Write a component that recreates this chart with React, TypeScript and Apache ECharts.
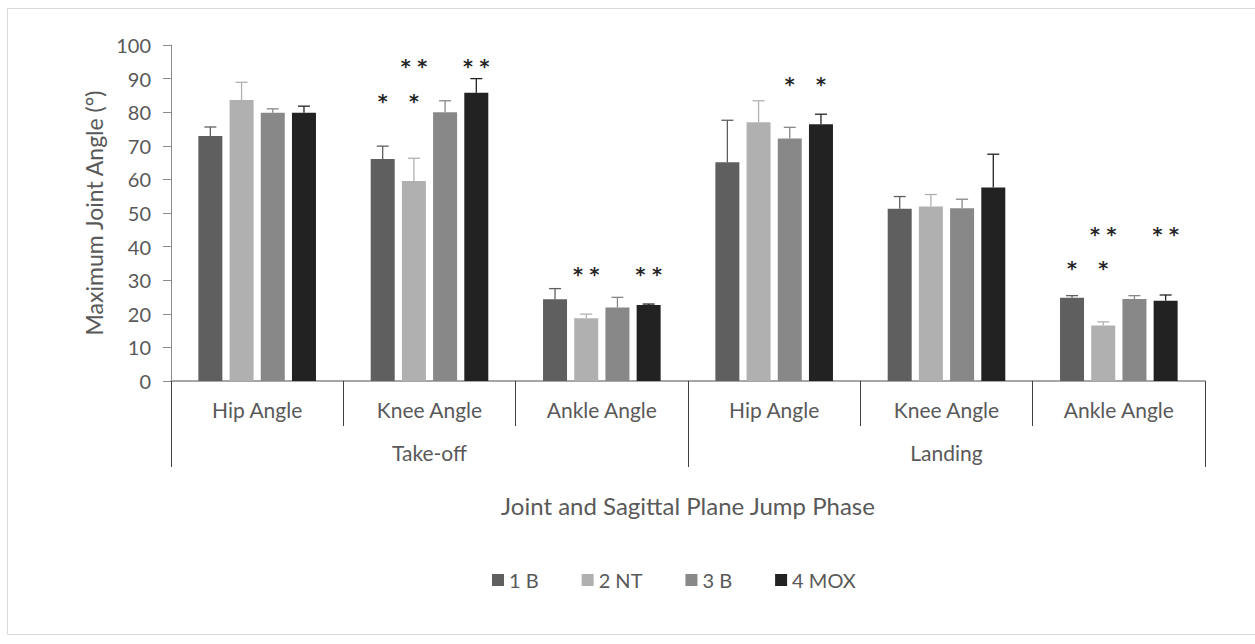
import React, { useEffect, useRef } from "react";
import * as echarts from "echarts";

const joints = ["Hip Angle", "Knee Angle", "Ankle Angle", "Hip Angle", "Knee Angle", "Ankle Angle"];
const phases = ["Take-off", "Landing"];
const seriesNames = ["1 B", "2 NT", "3 B", "4 MOX"];
const colors = ["#5f5f5f", "#b0b0b0", "#888888", "#222222"];

const b1 = [72.9, 66.1, 24.3, 65.1, 51.3, 24.8];
const nt2 = [83.6, 59.5, 18.7, 77.0, 51.9, 16.5];
const b3 = [79.8, 80.0, 21.9, 72.2, 51.4, 24.4];
const mox4 = [79.8, 85.8, 22.6, 76.4, 57.6, 23.9];

const b1Err = [2.7, 3.8, 3.2, 12.5, 3.6, 0.6];
const nt2Err = [5.3, 6.8, 1.2, 6.4, 3.6, 1.1];
const b3Err = [1.2, 3.4, 3.0, 3.3, 2.7, 1.0];
const mox4Err = [2.0, 4.2, 0.3, 3.0, 9.9, 1.7];

// significance marks: [category index, bar index, height, text]
const marks: [number, number, number, string][] = [
  [1, 0, 84.0, "*"],
  [1, 1, 84.0, "*"],
  [1, 1, 94.2, "* *"],
  [1, 3, 94.2, "* *"],
  [2, 1, 32.5, "* *"],
  [2, 3, 32.5, "* *"],
  [3, 2, 88.9, "*"],
  [3, 3, 88.9, "*"],
  [5, 0, 34.2, "*"],
  [5, 1, 34.2, "*"],
  [5, 1, 44.3, "* *"],
  [5, 3, 44.3, "* *"],
];

const FONT = "Lato";
const BAR_W = 24;
const BAR_GAP = 0.3;

function barCenter(catX: number, barIdx: number) {
  const step = BAR_W * (1 + BAR_GAP);
  const total = BAR_W * 4 + BAR_W * BAR_GAP * 3;
  return catX - total / 2 + barIdx * step + BAR_W / 2;
}

export default function App() {
  const ref = useRef<HTMLDivElement>(null);
  useEffect(() => {
    document.body.style.margin = "0";
    const chart = echarts.init(ref.current!, null, { renderer: "svg" });
    const values = [b1, nt2, b3, mox4];
    const errs = [b1Err, nt2Err, b3Err, mox4Err];
    const errData: number[][] = [];
    values.forEach((arr, s) =>
      arr.forEach((v, c) => errData.push([c, s, v, errs[s][c]]))
    );
    const markData = marks.map((m) => [m[0], m[1], m[2]]);

    chart.setOption({
      animation: false,
      textStyle: { fontFamily: FONT },
      graphic: [
        {
          type: "rect",
          shape: { x: 7.5, y: 8.5, width: 1260, height: 626 },
          style: { fill: "none", stroke: "#d9d9d9", lineWidth: 1 },
          silent: true,
        },
      ],
      grid: { left: 171, right: 50, top: 45, bottom: 263 },
      legend: {
        data: seriesNames,
        left: 487,
        top: 565,
        icon: "rect",
        itemWidth: 12,
        itemHeight: 12,
        itemGap: 43,
        textStyle: { fontFamily: FONT, fontSize: 20, color: "#595959" },
      },
      xAxis: [
        {
          type: "category",
          data: joints,
          axisLine: { lineStyle: { color: "#a6a6a6", width: 2 } },
          axisTick: { show: true, length: 45, interval: 0, lineStyle: { color: "#404040", width: 1 } },
          axisLabel: { interval: 0, margin: 18, fontSize: 21, color: "#595959", fontFamily: FONT },
        },
        {
          type: "category",
          data: phases,
          position: "bottom",
          axisLine: { show: false },
          axisTick: { show: true, length: 86, interval: 0, lineStyle: { color: "#404040", width: 1 } },
          axisLabel: { interval: 0, margin: 61, fontSize: 21, color: "#595959", fontFamily: FONT },
          name: "Joint and Sagittal Plane Jump Phase",
          nameLocation: "middle",
          nameGap: 112,
          nameTextStyle: { fontSize: 24, color: "#595959", fontFamily: FONT },
        },
      ],
      yAxis: {
        type: "value",
        min: 0,
        max: 100,
        interval: 10,
        name: "Maximum Joint Angle (°)",
        nameLocation: "middle",
        nameGap: 66,
        nameTextStyle: { fontSize: 23, color: "#595959", fontFamily: FONT },
        axisLine: { show: true, lineStyle: { color: "#8c8c8c", width: 1 } },
        axisTick: { show: true, length: 8, lineStyle: { color: "#8c8c8c" } },
        axisLabel: { margin: 20, fontSize: 20, color: "#595959", fontFamily: FONT },
        splitLine: { show: false },
      },
      series: [
        ...values.map((arr, s) => ({
          type: "bar",
          name: seriesNames[s],
          data: arr,
          barWidth: BAR_W,
          barGap: "30%",
          itemStyle: { color: colors[s] },
        })),
        {
          type: "custom",
          name: "err",
          data: errData,
          encode: { x: 0, y: 2 },
          z: 5,
          renderItem: (params: any, api: any) => {
            const c = api.value(0);
            const s = api.value(1);
            const v = api.value(2);
            const e = api.value(3);
            const base = api.coord([c, v]);
            const top = api.coord([c, v + e]);
            const x = barCenter(base[0], s);
            const col = colors[s];
            const st = { stroke: col, lineWidth: 1.3 };
            return {
              type: "group",
              children: [
                { type: "line", shape: { x1: x, y1: base[1], x2: x, y2: top[1] }, style: st },
                { type: "line", shape: { x1: x - 6, y1: top[1], x2: x + 6, y2: top[1] }, style: st },
              ],
            };
          },
        },
        {
          type: "custom",
          name: "marks",
          data: markData,
          encode: { x: 0, y: 2 },
          z: 6,
          renderItem: (params: any, api: any) => {
            const c = api.value(0);
            const s = api.value(1);
            const h = api.value(2);
            const m = marks[params.dataIndex][3];
            const p = api.coord([c, h]);
            const x = barCenter(p[0], s);
            return {
              type: "text",
              x,
              y: p[1] + 2,
              style: {
                text: m,
                fontSize: 19,
                fontWeight: "bold",
                fontFamily: "DejaVu Sans",
                fill: "#262626",
                align: "center",
                verticalAlign: "middle",
              },
            };
          },
        },
      ],
    });
    return () => chart.dispose();
  }, []);
  return <div ref={ref} style={{ width: 1255, height: 644 }} />;
}
